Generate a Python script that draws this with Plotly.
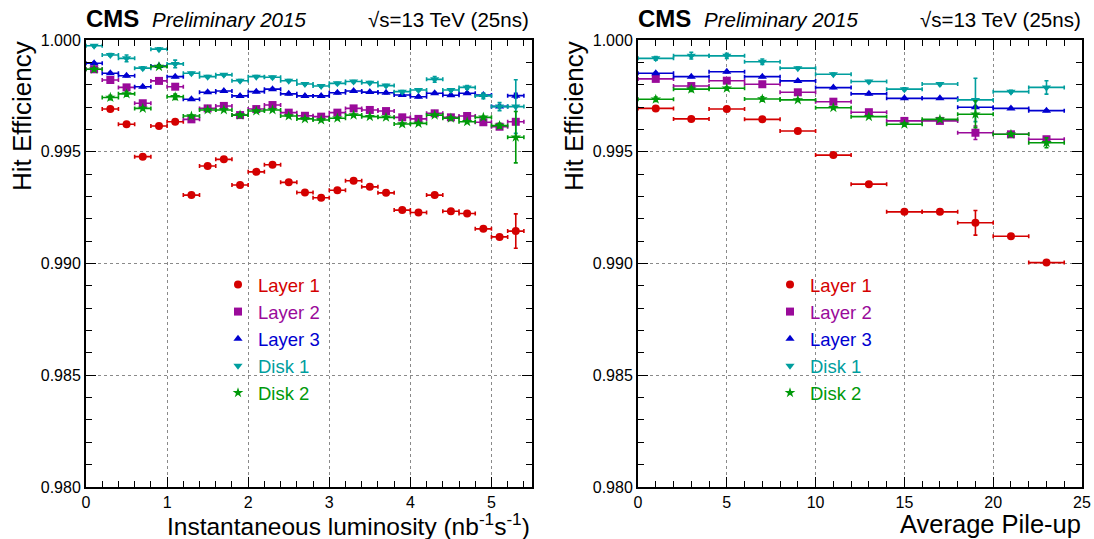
import plotly.graph_objects as go

# ---------------- data ----------------
lumi_x = [0.1, 0.3, 0.5, 0.7, 0.9, 1.1, 1.3, 1.5, 1.7, 1.9, 2.1, 2.3, 2.5, 2.7,
          2.9, 3.1, 3.3, 3.5, 3.7, 3.9, 4.1, 4.3, 4.5, 4.7, 4.9, 5.1, 5.3]
lumi_xerr = [0.1] * len(lumi_x)

lumi_layer1 = [None, 0.99691, 0.99623, 0.99478, 0.99615, 0.99634, 0.99306, 0.99436, 0.99466,
               0.99351, 0.99410, 0.99442, 0.99363, 0.99318, 0.99294, 0.99328, 0.99370, 0.99343,
               0.99316, 0.99239, 0.99228, 0.99306, 0.99234, 0.99224, 0.99155, 0.99119, 0.99145]
lumi_layer2 = [0.99869, 0.99821, 0.99788, 0.99717, 0.99817, 0.99791, 0.99645, 0.99694, 0.99705,
               0.99664, 0.99691, 0.99709, 0.99675, 0.99661, 0.99657, 0.99675, 0.99694, 0.99687,
               0.99682, 0.99654, 0.99647, 0.99672, 0.99654, 0.99660, 0.99632, 0.99612, 0.99634]
lumi_layer3 = [0.99896, 0.99851, 0.99840, 0.99791, 0.99884, 0.99836, 0.99735, 0.99766, 0.99772,
               0.99750, 0.99769, 0.99780, 0.99759, 0.99750, 0.99750, 0.99764, 0.99772, 0.99767,
               0.99764, 0.99754, 0.99746, 0.99762, 0.99753, 0.99762, 0.99754, 0.99703, 0.99751]
lumi_disk1 = [0.99974, 0.99933, 0.99918, 0.99874, 0.99959, 0.99893, 0.99851, 0.99836, 0.99844,
              0.99818, 0.99836, 0.99833, 0.99818, 0.99803, 0.99794, 0.99806, 0.99814, 0.99809,
              0.99796, 0.99769, 0.99776, 0.99824, 0.99776, 0.99788, 0.99750, 0.99702, 0.99702]
lumi_disk2 = [0.99869, 0.99743, 0.99759, 0.99694, 0.99881, 0.99746, 0.99660, 0.99687, 0.99687,
              0.99664, 0.99682, 0.99687, 0.99660, 0.99647, 0.99642, 0.99650, 0.99664, 0.99657,
              0.99654, 0.99624, 0.99627, 0.99664, 0.99650, 0.99634, 0.99654, 0.99617, 0.99565]

lumi_layer1_err = [0.00004] * 24 + [0.00005, 0.00005, 0.00077]
lumi_layer2_err = [0.00004] * 26 + [0.0001]
lumi_layer3_err = [0.00004] * 26 + [0.0001]
lumi_disk1_err = [0.00005, 0.00006, 0.00015, 0.00006, 0.00006, 0.00017] + [0.00005] * 15 + \
                 [0.00013, 0.00006, 0.00008, 0.00013, 0.00018, 0.0012]
lumi_disk2_err = [0.00005, 0.0001, 0.0001, 0.00006, 0.00006, 0.00012] + [0.00005] * 19 + \
                 [0.0001, 0.00115]

pu_x = [1, 3, 5, 7, 9, 11, 13, 15, 17, 19, 21, 23]
pu_xerr = [1] * len(pu_x)

pu_layer1 = [0.99694, 0.99647, 0.99691, 0.99645, 0.99593, 0.99485, 0.99355, 0.99231, 0.99231,
             0.99182, 0.99122, 0.99004]
pu_layer2 = [0.99826, 0.99794, 0.99818, 0.99802, 0.99766, 0.99724, 0.99677, 0.99638, 0.99638,
             0.99585, 0.99578, 0.99556]
pu_layer3 = [0.99851, 0.99836, 0.99858, 0.99836, 0.99817, 0.99787, 0.99759, 0.99739, 0.99739,
             0.99699, 0.99694, 0.99684]
pu_disk1 = [0.99918, 0.99930, 0.99929, 0.99903, 0.99874, 0.99847, 0.99814, 0.99780, 0.99803,
            0.99732, 0.99769, 0.99788]
pu_disk2 = [0.99735, 0.99780, 0.99784, 0.99736, 0.99732, 0.99697, 0.99657, 0.99623, 0.99645,
            0.99668, 0.99578, 0.99540]

pu_layer1_err = [0.00004] * 9 + [0.00055, 0.00004, 0.00004]
pu_layer2_err = [0.00004] * 9 + [0.0003, 0.00005, 0.00006]
pu_layer3_err = [0.00004] * 12
pu_disk1_err = [0.00008, 0.00015, 0.00012, 0.00012, 0.00005, 0.00005, 0.00005, 0.00006, 0.00006,
                0.00097, 0.00006, 0.0003]
pu_disk2_err = [0.0001, 0.0001, 0.00006, 0.0001, 0.00005, 0.00005, 0.00005, 0.00006, 0.00006,
                0.0006, 0.00006, 0.00022]

series_names = ["Layer 1", "Layer 2", "Layer 3", "Disk 1", "Disk 2"]
series_colors = ["#d40000", "#9a0a9a", "#0000d0", "#009e9e", "#00990a"]
series_symbols = ["circle", "square", "triangle-up", "triangle-down", "star"]
series_sizes = [8, 8, 8, 8, 8]

lumi_values = [lumi_layer1, lumi_layer2, lumi_layer3, lumi_disk1, lumi_disk2]
lumi_errors = [lumi_layer1_err, lumi_layer2_err, lumi_layer3_err, lumi_disk1_err, lumi_disk2_err]
pu_values = [pu_layer1, pu_layer2, pu_layer3, pu_disk1, pu_disk2]
pu_errors = [pu_layer1_err, pu_layer2_err, pu_layer3_err, pu_disk1_err, pu_disk2_err]

# ---------------- figure ----------------
W, H = 1094, 539
FONT = "Liberation Sans, Arial, Helvetica, sans-serif"


def px(v):
    return v / W


def py(v):
    return 1 - v / H


fig = go.Figure()

for i in range(5):
    c = series_colors[i]
    label = f"<span style='color:{c}'>{series_names[i]}</span>"
    common = dict(mode="markers",
                  marker=dict(symbol=series_symbols[i], size=series_sizes[i], color=c,
                              line=dict(width=0)),
                  name=label, hoverinfo="x+y")
    fig.add_trace(go.Scatter(
        x=lumi_x, y=lumi_values[i],
        error_x=dict(type="data", array=lumi_xerr, color=c, thickness=1.6, width=2),
        error_y=dict(type="data", array=lumi_errors[i], color=c, thickness=1.6, width=2),
        xaxis="x", yaxis="y", legend="legend", **common))
    fig.add_trace(go.Scatter(
        x=pu_x, y=pu_values[i],
        error_x=dict(type="data", array=pu_xerr, color=c, thickness=1.6, width=2),
        error_y=dict(type="data", array=pu_errors[i], color=c, thickness=1.6, width=2),
        xaxis="x2", yaxis="y2", legend="legend2", **common))

ydom = [py(487), py(40)]
axis_common = dict(
    showline=True, linecolor="black", linewidth=2, mirror="ticks",
    ticks="inside", ticklen=10, tickwidth=1, tickcolor="black",
    showgrid=True, gridcolor="#8a8a8a", griddash="dot", gridwidth=1,
    zeroline=False, automargin=False,
    tickfont=dict(family=FONT, size=16, color="black"),
)
yaxis_common = dict(axis_common, range=[0.98, 1.0], dtick=0.005, tick0=0.98, tickformat=".3f",
                    minor=dict(dtick=0.001, ticks="inside", ticklen=6, tickcolor="black",
                               showgrid=False))

fig.update_layout(
    width=W, height=H, template="none",
    paper_bgcolor="white", plot_bgcolor="white",
    margin=dict(l=0, r=0, t=0, b=0),
    showlegend=True,
    xaxis=dict(axis_common, domain=[px(86), px(532)], range=[0, 5.5], dtick=1, tick0=0,
               anchor="y",
               minor=dict(dtick=0.2, ticks="inside", ticklen=6, tickcolor="black",
                          showgrid=False)),
    yaxis=dict(yaxis_common, domain=ydom, anchor="x"),
    xaxis2=dict(axis_common, domain=[px(638), px(1082)], range=[0, 25], dtick=5, tick0=0,
                anchor="y2",
                minor=dict(dtick=1, ticks="inside", ticklen=6, tickcolor="black",
                           showgrid=False)),
    yaxis2=dict(yaxis_common, domain=ydom, anchor="x2"),
    legend=dict(x=px(218), y=py(266), xanchor="left", yanchor="top",
                bgcolor="rgba(0,0,0,0)", borderwidth=0,
                font=dict(family=FONT, size=18.5), itemclick=False),
    legend2=dict(x=px(770), y=py(266), xanchor="left", yanchor="top",
                 bgcolor="rgba(0,0,0,0)", borderwidth=0,
                 font=dict(family=FONT, size=18.5), itemclick=False),
)

annotations = []
for off in (0, 552):
    annotations += [
        dict(text="<b>CMS</b>", x=px(84 + off), y=py(19), xanchor="left", yanchor="middle",
             font=dict(family=FONT, size=24, color="black")),
        dict(text="<i>Preliminary 2015</i>", x=px(150 + off), y=py(20), xanchor="left",
             yanchor="middle", font=dict(family=FONT, size=20.5, color="black")),
        dict(text="√s=13 TeV (25ns)", x=px(531 + off), y=py(20), xanchor="right",
             yanchor="middle", font=dict(family=FONT, size=20.5, color="black")),
        dict(text="Hit Efficiency", textangle=-90, x=px(22 + off), y=py(39), xanchor="center",
             yanchor="top", font=dict(family=FONT, size=26, color="black")),
    ]
annotations += [
    dict(text="Instantaneous luminosity (nb<sup>-1</sup>s<sup>-1</sup>)", x=px(532), y=py(524),
         xanchor="right", yanchor="middle", font=dict(family=FONT, size=24.5, color="black")),
    dict(text="Average Pile-up", x=px(1083), y=py(523.5), xanchor="right", yanchor="middle",
         font=dict(family=FONT, size=25.5, color="black")),
]
for a in annotations:
    a.update(xref="paper", yref="paper", showarrow=False)
fig.update_layout(annotations=annotations)

fig.write_html("out.html")
